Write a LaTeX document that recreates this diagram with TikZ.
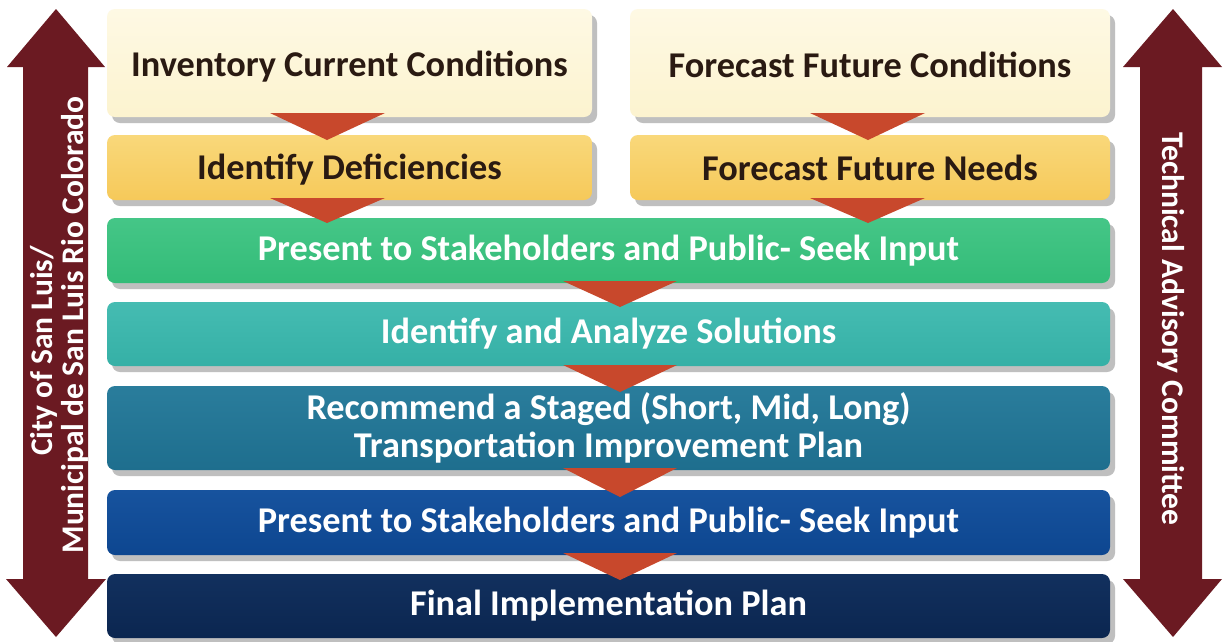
\documentclass[tikz,border=0pt]{standalone}
\usepackage{fontspec}
\setmainfont{Carlito}
\usetikzlibrary{shadows,calc}
\definecolor{maroon}{HTML}{6B1A22}
\definecolor{tri}{HTML}{C8482C}
\definecolor{cream}{HTML}{FCF3CF}
\definecolor{creamtop}{HTML}{FEF9E4}
\definecolor{gold}{HTML}{F6C95A}
\definecolor{goldtop}{HTML}{F9D87A}
\definecolor{green1}{HTML}{33BC78}
\definecolor{green1top}{HTML}{45C687}
\definecolor{teal1}{HTML}{35B0A6}
\definecolor{teal1top}{HTML}{45BCB2}
\definecolor{teal2}{HTML}{1E6E8E}
\definecolor{teal2top}{HTML}{2A7D9C}
\definecolor{blue1}{HTML}{0D4690}
\definecolor{blue1top}{HTML}{17539E}
\definecolor{navy}{HTML}{0B2650}
\definecolor{navytop}{HTML}{12305E}
\definecolor{darktext}{HTML}{2A1A12}
\newcommand{\lowertext}[2]{\raisebox{-#1}[\height][\depth]{#2}}
\tikzset{
  box/.style={rounded corners=8pt, inner sep=0pt, align=center,
    drop shadow={shadow xshift=5pt, shadow yshift=-6pt, fill=black!25, opacity=1},
    font=\bfseries\fontsize{36.3}{38}\selectfont},
  lightbox/.style={box, text=darktext},
  darkbox/.style={box, text=white},
  downtri/.style={fill=tri},
  bigarrow/.style={fill=maroon},
  sidetext/.style={text=white, font=\bfseries\fontsize{31.5}{30}\selectfont, inner sep=0pt}
}
\begin{document}
\begin{tikzpicture}[x=1pt,y=-1pt]
\useasboundingbox[fill=white] (0,0) rectangle (1225,641);

% side arrows
\fill[bigarrow] (56,9) -- (105,67) -- (88,67) -- (88,579) -- (106,579) -- (56,637) -- (6,579) -- (23,579) -- (23,67) -- (7,67) -- cycle;
\fill[bigarrow] (1173,9) -- (1222,67) -- (1202,67) -- (1202,579) -- (1222,579) -- (1173,637) -- (1123,579) -- (1140,579) -- (1140,67) -- (1123,67) -- cycle;
\node[sidetext, rotate=90] (lefttext1) at (44,351) {City of San Luis/};
\node[sidetext, rotate=90] (lefttext2) at (75,325) {Municipal de San Luis Rio Colorado};
\node[sidetext, rotate=-90] (righttext) at (1171,329) {Technical Advisory Committee};

% boxes
\node[lightbox, minimum width=485pt, minimum height=108pt, top color=creamtop, bottom color=cream] (inv) at (349.5,63) {\lowertext{4pt}{Inventory Current Conditions}};
\node[lightbox, minimum width=480pt, minimum height=108pt, top color=creamtop, bottom color=cream] (fore) at (870,63) {\lowertext{2pt}{Forecast Future Conditions}};
\node[lightbox, minimum width=485pt, minimum height=65pt, top color=goldtop, bottom color=gold] (defi) at (349.5,167.5) {\lowertext{2pt}{Identify Deficiencies}};
\node[lightbox, minimum width=480pt, minimum height=65pt, top color=goldtop, bottom color=gold] (needs) at (870,167.5) {Forecast Future Needs};
\node[darkbox, minimum width=1003pt, minimum height=65pt, top color=green1top, bottom color=green1] (pres1) at (608.5,250.5) {Present to Stakeholders and Public- Seek Input};
\node[darkbox, minimum width=1003pt, minimum height=64pt, top color=teal1top, bottom color=teal1] (anal) at (608.5,334) {Identify and Analyze Solutions};
\node[darkbox, minimum width=1003pt, minimum height=84pt, top color=teal2top, bottom color=teal2] (reco) at (608.5,428) {Recommend a Staged (Short, Mid, Long)\\Transportation Improvement Plan};
\node[darkbox, minimum width=1003pt, minimum height=65pt, top color=blue1top, bottom color=blue1] (pres2) at (608.5,522.5) {Present to Stakeholders and Public- Seek Input};
\node[darkbox, minimum width=1003pt, minimum height=64pt, top color=navytop, bottom color=navy] (final) at (608.5,606) {Final Implementation Plan};

% triangles
\fill[downtri] (270,113) -- (385,113) -- (327,140) -- cycle;
\fill[downtri] (810,113) -- (925,113) -- (868,140) -- cycle;
\fill[downtri] (270,198) -- (385,198) -- (327,223) -- cycle;
\fill[downtri] (810,198) -- (925,198) -- (868,223) -- cycle;
\fill[downtri] (563,281) -- (677,281) -- (620,307) -- cycle;
\fill[downtri] (563,365) -- (677,365) -- (620,392) -- cycle;
\fill[downtri] (563,468) -- (677,468) -- (620,497) -- cycle;
\fill[downtri] (563,553) -- (677,553) -- (620,580) -- cycle;
\end{tikzpicture}
\end{document}
